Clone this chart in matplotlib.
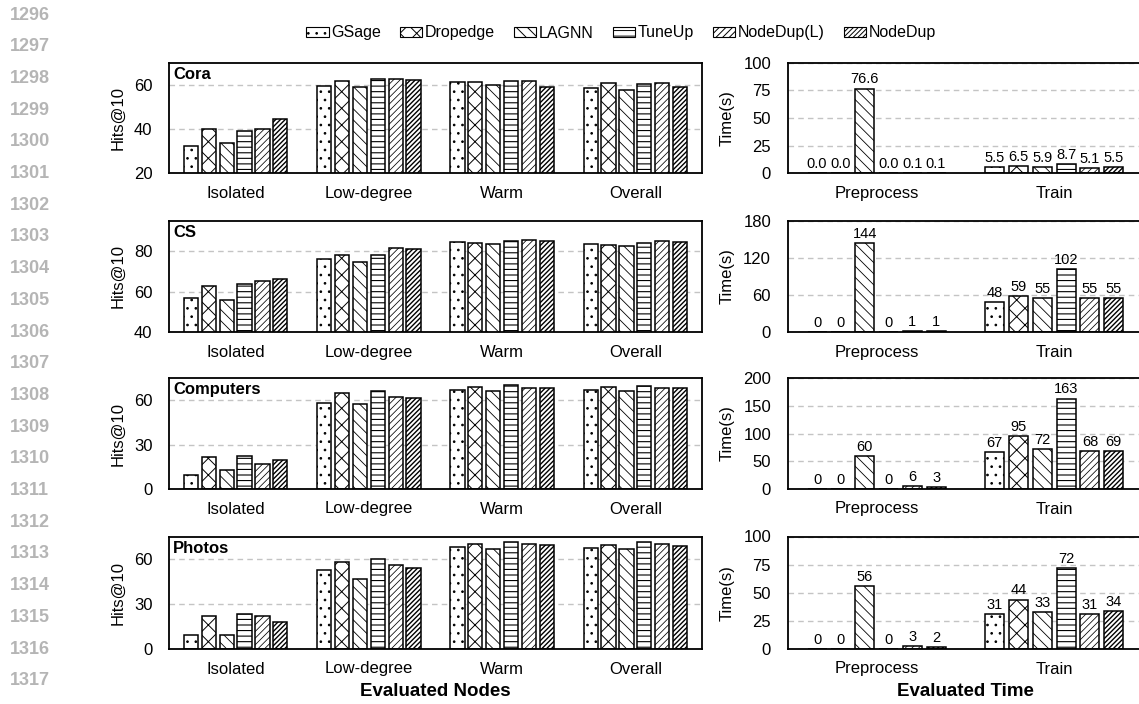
import matplotlib
matplotlib.use("Agg")
import matplotlib.pyplot as plt
import numpy as np
from matplotlib.patches import Patch

plt.rcParams['font.family'] = ['Liberation Sans', 'DejaVu Sans']
plt.rcParams['hatch.linewidth'] = 0.7

methods = ["GSage", "Dropedge", "LAGNN", "TuneUp", "NodeDup(L)", "NodeDup"]
hatches = ["..", "xx", "\\\\\\", "---", "/////", "///////"]
hatch_widths = [0.7, 0.7, 0.6, 0.8, 0.55, 1.0]
node_groups = ["Isolated", "Low-degree", "Warm", "Overall"]
time_groups = ["Preprocess", "Train"]
datasets = ["Cora", "CS", "Computers", "Photos"]

# Hits@10, one row per method, one column per node group
cora_hits = [[32.4, 59.6, 61.2, 58.4],
             [40.1, 61.9, 61.3, 60.6],
             [33.7, 59.0, 60.1, 57.6],
             [39.1, 62.5, 61.9, 60.4],
             [40.0, 62.5, 61.9, 60.6],
             [44.5, 62.1, 59.1, 59.0]]
cs_hits = [[56.6, 76.2, 84.5, 83.5],
           [62.6, 78.2, 84.0, 83.3],
           [56.1, 74.5, 83.8, 82.8],
           [63.7, 78.2, 85.2, 84.3],
           [65.2, 81.5, 85.6, 85.0],
           [66.1, 81.2, 85.0, 84.6]]
computers_hits = [[9.5, 58.2, 67.2, 67.0],
                  [21.5, 64.7, 68.8, 68.6],
                  [13.1, 57.3, 66.3, 66.1],
                  [22.2, 66.3, 70.4, 69.3],
                  [17.0, 62.3, 68.4, 68.1],
                  [19.9, 61.4, 68.4, 68.1]]
photos_hits = [[9.3, 52.9, 67.7, 67.5],
               [21.9, 58.0, 69.7, 69.5],
               [9.1, 46.5, 66.9, 66.6],
               [23.2, 59.8, 71.5, 71.3],
               [21.7, 56.0, 70.0, 70.0],
               [18.2, 54.2, 69.1, 68.6]]

# Time in seconds, one row per method: [preprocess, train]
cora_time = [[0.0, 5.5], [0.0, 6.5], [76.6, 5.9], [0.0, 8.7], [0.1, 5.1], [0.1, 5.5]]
cs_time = [[0, 48], [0, 59], [144, 55], [0, 102], [1, 55], [1, 55]]
computers_time = [[0, 67], [0, 95], [60, 72], [0, 163], [6, 68], [3, 69]]
photos_time = [[0, 31], [0, 44], [56, 33], [0, 72], [3, 31], [2, 34]]

hits_all = [cora_hits, cs_hits, computers_hits, photos_hits]
time_all = [cora_time, cs_time, computers_time, photos_time]
hits_ylims = [(20, 70), (40, 95), (0, 75), (0, 75)]
hits_ticks = [[20, 40, 60], [40, 60, 80], [0, 30, 60], [0, 30, 60]]
time_ylims = [(0, 100), (0, 180), (0, 200), (0, 100)]
time_ticks = [[0, 25, 50, 75, 100], [0, 60, 120, 180], [0, 50, 100, 150, 200],
              [0, 25, 50, 75, 100]]
time_fmt = ["{:.1f}", "{:.0f}", "{:.0f}", "{:.0f}"]

W, H = 1139, 704
fig = plt.figure(figsize=(W / 100, H / 100), dpi=100)


def px_axes(x0, y0, x1, y1):
    return fig.add_axes([x0 / W, 1 - y1 / H, (x1 - x0) / W, (y1 - y0) / H])


def style(ax, ylim, yticks):
    ax.set_ylim(*ylim)
    ax.set_yticks(yticks)
    ax.grid(axis='y', linestyle=(0, (4, 3)), color='#c4c4c4', linewidth=1.0)
    ax.set_axisbelow(True)
    ax.tick_params(length=0, labelsize=12)
    ax.tick_params(axis='y', pad=12)
    ax.tick_params(axis='x', pad=9)
    for s in ax.spines.values():
        s.set_linewidth(1.3)


def draw_bars(ax, xs, vals, m):
    with plt.rc_context({'hatch.linewidth': hatch_widths[m]}):
        return ax.bar(xs, vals, width, color='white', edgecolor='black',
                      linewidth=1.1, hatch=hatches[m], zorder=2)


step, width = 0.134, 0.107
offsets = (np.arange(len(methods)) - 2.5) * step
rows = [(62.7, 173.3), (221, 332), (378, 489), (536.5, 649)]

for r, (top, bot) in enumerate(rows):
    # Link-prediction accuracy per node group
    ax = px_axes(169, top, 702, bot)
    xs = np.arange(len(node_groups))
    for m, name in enumerate(methods):
        draw_bars(ax, xs + offsets[m], hits_all[r][m], m)
    ax.set_xlim(-0.5, len(node_groups) - 0.5)
    ax.set_xticks(xs)
    ax.set_xticklabels(node_groups)
    style(ax, hits_ylims[r], hits_ticks[r])
    ax.set_ylabel("Hits@10", fontsize=12, labelpad=6)
    ax.text(0.008, 0.96, datasets[r], transform=ax.transAxes, fontsize=12,
            fontweight='bold', va='top', ha='left')
    if r == 3:
        ax.set_xlabel("Evaluated Nodes", fontsize=13.5, fontweight='bold',
                      labelpad=5)

    # Wall-clock time per stage
    ax2 = px_axes(787.7, top, 1143, bot)
    xt = np.arange(len(time_groups))
    for m, name in enumerate(methods):
        vals = time_all[r][m]
        draw_bars(ax2, xt + offsets[m], vals, m)
        for x, v in zip(xt + offsets[m], vals):
            ax2.annotate(time_fmt[r].format(v), (x, v), xytext=(0, 1.5),
                         textcoords='offset points', ha='center', va='bottom',
                         fontsize=10.5)
    ax2.set_xlim(-0.5, len(time_groups) - 0.5)
    ax2.set_xticks(xt)
    ax2.set_xticklabels(time_groups)
    style(ax2, time_ylims[r], time_ticks[r])
    ax2.set_ylabel("Time(s)", fontsize=12, labelpad=6)
    if r == 3:
        ax2.set_xlabel("Evaluated Time", fontsize=13.5, fontweight='bold',
                       labelpad=5)

handles = []
for m, h in enumerate(hatches):
    with plt.rc_context({'hatch.linewidth': hatch_widths[m]}):
        handles.append(Patch(facecolor='white', edgecolor='black', hatch=h,
                             linewidth=0.8))
fig.legend(handles, methods, loc='center', bbox_to_anchor=(621 / W, 1 - 33 / H),
           ncol=6, frameon=False, handlelength=1.4, handleheight=0.65,
           handletextpad=0.15, columnspacing=1.2, fontsize=11.5)

# Manuscript line numbers in the left margin
for i in range(22):
    fig.text(10 / W, 1 - (15 + 31.7 * i) / H, str(1296 + i), color='#b5b5b5',
             fontsize=13, fontweight='bold', va='center', ha='left')

fig.savefig("out.png", dpi=100)
